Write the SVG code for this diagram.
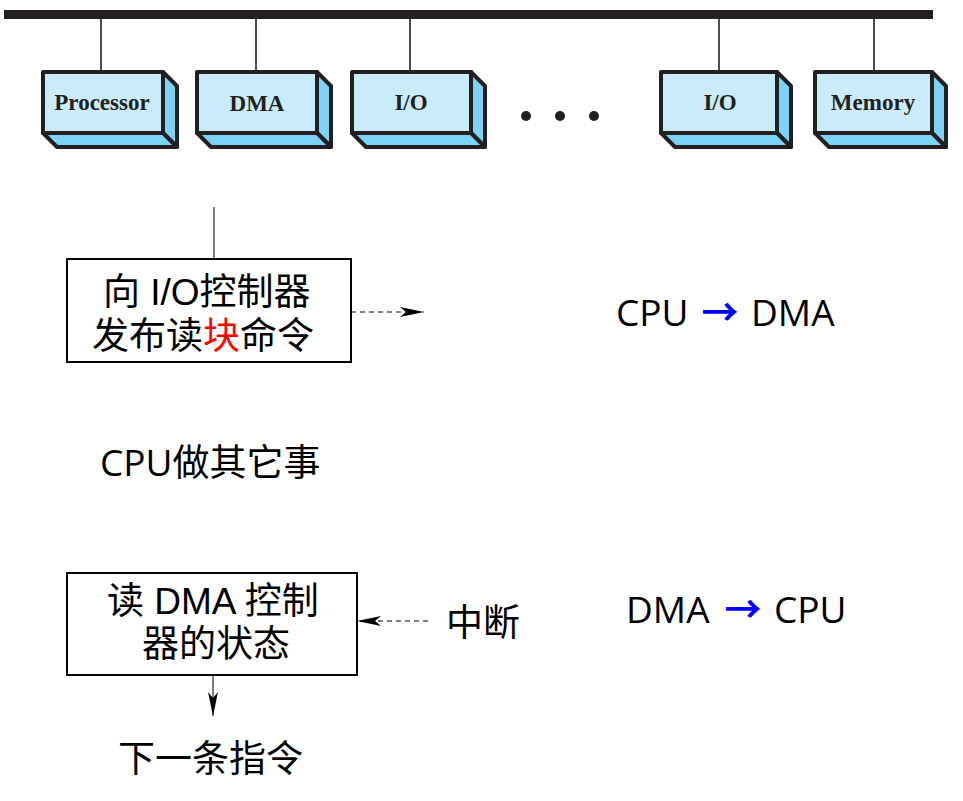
<svg xmlns="http://www.w3.org/2000/svg" width="963" height="801" viewBox="0 0 963 801">
<style>
.front{fill:#c9ebfa;stroke:#231f20;stroke-width:4;stroke-linejoin:round}
.side{fill:#7dd3f5;stroke:#231f20;stroke-width:4;stroke-linejoin:round}
.lbl{font-family:"Liberation Serif",serif;font-weight:bold;font-size:23px;fill:#231f20;text-anchor:middle}
.drop{stroke:#231f20;stroke-width:1.6}
.cn{font-family:"Open Sans","Noto Sans CJK SC",sans-serif;font-size:37px;fill:#000}
.bx{font-family:"Liberation Sans","Noto Sans CJK SC",sans-serif;font-size:37px;fill:#000}
.blue{fill:#0000ff;font-weight:bold}
.red{fill:#ff0000}
.box{fill:#fff;stroke:#000;stroke-width:2}
.dash{stroke:#000;stroke-width:1;stroke-dasharray:5,4;fill:none}
.solid{stroke:#000;stroke-width:1;fill:none}
</style>
<defs>
<marker id="ah" markerWidth="24" markerHeight="10" refX="24" refY="5" orient="auto" markerUnits="userSpaceOnUse">
<path d="M0,0 L24,5 L0,10 L6,5 Z" fill="#000"/>
</marker>
</defs>
<rect width="963" height="801" fill="#fff"/>
<g id="bus">
<rect x="4" y="10" width="929" height="9" fill="#231f20"/>
</g>
<g id="connectors">
<line class="drop" x1="101" y1="19" x2="101" y2="72"/>
<line class="drop" x1="256" y1="19" x2="256" y2="72"/>
<line class="drop" x1="410" y1="19" x2="410" y2="72"/>
<line class="drop" x1="719" y1="19" x2="719" y2="72"/>
<line class="drop" x1="874" y1="19" x2="874" y2="72"/>
<line class="solid" x1="214" y1="207" x2="214" y2="259"/>
<line class="dash" x1="351" y1="312" x2="424" y2="312" marker-end="url(#ah)"/>
<line class="dash" x1="428" y1="621" x2="357" y2="621" marker-end="url(#ah)"/>
<line class="solid" x1="213" y1="675" x2="213" y2="716" marker-end="url(#ah)"/>
</g>
<g id="processor">
<polygon class="side" points="163,72 177,86 177,147 163,133"/>
<polygon class="side" points="43,133 163,133 177,147 57,147"/>
<rect class="front" x="43" y="72" width="120" height="61"/>
<text class="lbl" x="102" y="110">Processor</text>
</g>
<g id="dma">
<polygon class="side" points="317,72 331,86 331,147 317,133"/>
<polygon class="side" points="197,133 317,133 331,147 211,147"/>
<rect class="front" x="197" y="72" width="120" height="61"/>
<text class="lbl" x="257" y="111">DMA</text>
</g>
<g id="io1">
<polygon class="side" points="471,72 485,86 485,147 471,133"/>
<polygon class="side" points="352,133 471,133 485,147 366,147"/>
<rect class="front" x="352" y="72" width="119" height="61"/>
<text class="lbl" x="411" y="110">I/O</text>
</g>
<g id="dots" fill="#231f20">
<circle cx="526" cy="116" r="5"/>
<circle cx="560" cy="116" r="5"/>
<circle cx="594" cy="116" r="5"/>
</g>
<g id="io2">
<polygon class="side" points="777,72 791,86 791,147 777,133"/>
<polygon class="side" points="661,133 777,133 791,147 675,147"/>
<rect class="front" x="661" y="72" width="116" height="61"/>
<text class="lbl" x="720" y="110">I/O</text>
</g>
<g id="memory">
<polygon class="side" points="932,72 946,86 946,147 932,133"/>
<polygon class="side" points="815,133 932,133 946,147 829,147"/>
<rect class="front" x="815" y="72" width="117" height="61"/>
<text class="lbl" x="873" y="110">Memory</text>
</g>
<g id="cmd">
<rect class="box" x="67" y="259" width="284" height="103"/>
<text class="bx" x="103" y="305">向 I/O控制器</text>
<text class="bx" x="92" y="349">发布读</text>
<text class="bx red" x="203" y="349">块</text>
<text class="bx" x="240" y="349">命令</text>
</g>
<g id="cpu-dma">
<text class="cn" x="616" y="326">CPU</text>
<text class="cn blue" x="720" y="326" text-anchor="middle">→</text>
<text class="cn" x="751" y="326">DMA</text>
</g>
<g id="other">
<text class="cn" x="100" y="476">CPU做其它事</text>
</g>
<g id="status">
<rect class="box" x="67" y="573" width="290" height="102"/>
<text class="bx" x="107" y="614">读 DMA 控制</text>
<text class="bx" x="142" y="657">器的状态</text>
</g>
<g id="interrupt">
<text class="cn" x="446" y="636">中断</text>
</g>
<g id="dma-cpu">
<text class="cn" x="626" y="623">DMA</text>
<text class="cn blue" x="743" y="623" text-anchor="middle">→</text>
<text class="cn" x="774" y="623">CPU</text>
</g>
<g id="next">
<text class="cn" x="118" y="772">下一条指令</text>
</g>
</svg>
